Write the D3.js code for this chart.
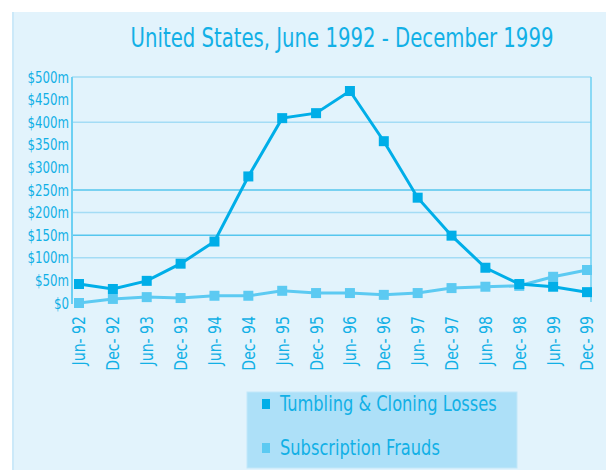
<!DOCTYPE html>
<html lang="en">
<head>
<meta charset="utf-8">
<script src="https://d3js.org/d3.v7.min.js"></script>
<style>
  body { margin: 0; background: #fff; }
  svg text { font-family: "Liberation Sans Narrow", "DejaVu Sans Condensed", "Arial Narrow", sans-serif; fill: #12b0e6; }
</style>
</head>
<body>
<script>
var periods = ["Jun- 92", "Dec- 92", "Jun- 93", "Dec- 93", "Jun- 94", "Dec- 94", "Jun- 95", "Dec- 95",
               "Jun- 96", "Dec- 96", "Jun- 97", "Dec- 97", "Jun- 98", "Dec- 98", "Jun- 99", "Dec- 99"];
var tumbling = [42, 31, 49, 87, 136, 280, 409, 420, 469, 358, 233, 149, 78, 42, 36, 24];
var subscription = [0, 9, 13, 11, 16, 16, 27, 22, 22, 18, 22, 33, 36, 38, 58, 73];
var yTicks = [0, 50, 100, 150, 200, 250, 300, 350, 400, 450, 500];
var lightGrid = [500, 400, 200, 100];
var darkGrid = [250, 150];
var seriesNames = ["Tumbling & Cloning Losses", "Subscription Frauds"];

var width = 606, height = 470;
var svg = d3.select("body").append("svg")
    .attr("width", width)
    .attr("height", height);

// squeeze text horizontally, the original uses a condensed face
function squeeze(sel, f) {
    sel.each(function() {
        var w = this.getComputedTextLength();
        d3.select(this).attr("textLength", w * f).attr("lengthAdjust", "spacingAndGlyphs");
    });
}

// panel
svg.append("rect").attr("x", 12).attr("y", 12).attr("width", width - 12).attr("height", height - 12)
    .attr("fill", "#e2f3fc");
svg.append("rect").attr("x", 12).attr("y", 12).attr("width", 2).attr("height", height - 12)
    .attr("fill", "#cce9f9");

// title, scaled to the width it has in the original
var title = svg.append("text")
    .attr("x", 0).attr("y", 0)
    .attr("text-anchor", "middle")
    .style("font-size", "27px")
    .text("United States, June 1992 - December 1999");
var tw = title.node().getComputedTextLength();
title.attr("transform", "translate(342,47) scale(" + (423 / tw) + ",1)");

var x = d3.scalePoint().domain(periods).range([79, 587]);
var y = d3.scaleLinear().domain([0, 500]).range([303, 77]);

// gridlines
svg.selectAll(".glight").data(lightGrid).enter().append("line")
    .attr("x1", 72).attr("x2", 591)
    .attr("y1", function(d) { return y(d); }).attr("y2", function(d) { return y(d); })
    .attr("stroke", "#a3dcf5").attr("stroke-width", 1.5);
svg.selectAll(".gdark").data(darkGrid).enter().append("line")
    .attr("x1", 72).attr("x2", 591)
    .attr("y1", function(d) { return y(d); }).attr("y2", function(d) { return y(d); })
    .attr("stroke", "#55c6ee").attr("stroke-width", 1.5);

// axis lines
svg.append("line").attr("x1", 72).attr("x2", 72).attr("y1", 77).attr("y2", 304)
    .attr("stroke", "#6cd0f3").attr("stroke-width", 2);
svg.append("line").attr("x1", 591).attr("x2", 591).attr("y1", 77).attr("y2", 302)
    .attr("stroke", "#6cd0f3").attr("stroke-width", 1.5);

// y labels
var yAxis = svg.append("g").attr("transform", "translate(69,0)")
    .call(d3.axisLeft(y).tickValues(yTicks).tickSize(0).tickPadding(0)
        .tickFormat(function(d) { return d === 0 ? "$0" : "$" + d + "m"; }));
yAxis.select(".domain").remove();
yAxis.selectAll("text").style("font-size", "16px").attr("fill", "#12b0e6");
squeeze(yAxis.selectAll("text"), 0.82);

// x labels
var xAxis = svg.append("g").attr("transform", "translate(0,316)")
    .call(d3.axisBottom(x).tickSize(0));
xAxis.select(".domain").remove();
xAxis.selectAll("text")
    .style("font-size", "17px").attr("fill", "#12b0e6")
    .attr("text-anchor", "end")
    .attr("transform", "rotate(-90)")
    .attr("x", 0).attr("y", 0).attr("dx", 0).attr("dy", "0.35em");
squeeze(xAxis.selectAll("text"), 0.92);

var line = d3.line()
    .x(function(d, i) { return x(periods[i]); })
    .y(function(d) { return y(d); });

var series = [
    { name: seriesNames[1], values: subscription, color: "#5ccaf2" },
    { name: seriesNames[0], values: tumbling, color: "#00aee8" }
];

series.forEach(function(s) {
    svg.append("path").datum(s.values)
        .attr("d", line)
        .attr("fill", "none")
        .attr("stroke", s.color)
        .attr("stroke-width", 3);
    svg.selectAll(null).data(s.values).enter().append("rect")
        .attr("x", function(d, i) { return x(periods[i]) - 5; })
        .attr("y", function(d) { return y(d) - 5; })
        .attr("width", 10).attr("height", 10)
        .attr("fill", s.color);
});

// legend
svg.append("rect").attr("x", 247).attr("y", 392).attr("width", 270).attr("height", 76)
    .attr("fill", "#ade0f8").attr("stroke", "#c2e8f9");
var leg = svg.selectAll(".leg").data([series[1], series[0]]).enter().append("g")
    .attr("transform", function(d, i) { return "translate(262," + (404 + i * 44) + ")"; });
leg.append("rect").attr("x", 0).attr("y", -5).attr("width", 8).attr("height", 10)
    .attr("fill", function(d) { return d.color; });
var legText = leg.append("text").attr("x", 18).attr("y", 0).attr("dy", "0.35em")
    .style("font-size", "21px")
    .text(function(d) { return d.name; });
squeeze(legText, 0.86);
</script>
</body>
</html>
